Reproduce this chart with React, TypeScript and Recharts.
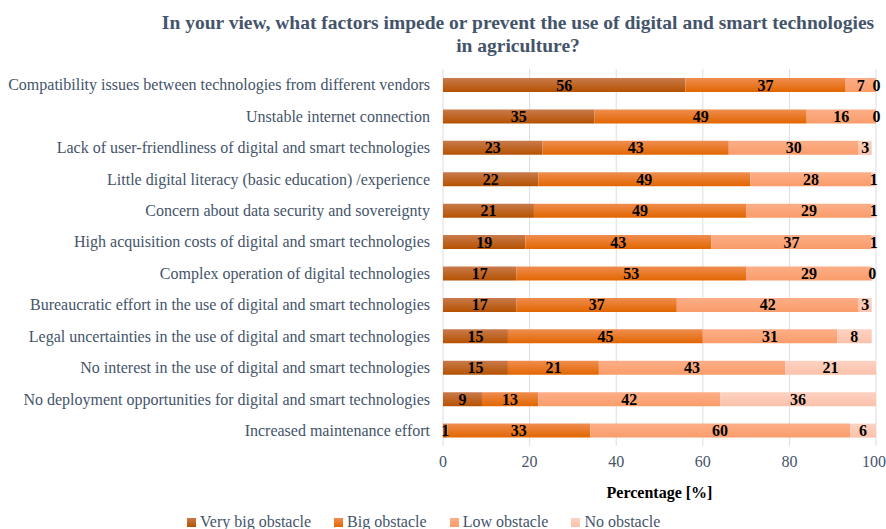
import React from 'react';
import { BarChart, Bar, XAxis, YAxis, CartesianGrid, Legend, LabelList } from 'recharts';

const categories = [
  'Compatibility issues between technologies from different vendors ',
  'Unstable internet connection',
  'Lack of user-friendliness of digital and smart technologies',
  'Little digital literacy (basic education) /experience',
  'Concern about data security and sovereignty',
  'High acquisition costs of digital and smart technologies',
  'Complex operation of digital technologies',
  'Bureaucratic effort in the use of digital and smart technologies ',
  'Legal uncertainties in the use of digital and smart technologies',
  'No interest in the use of digital and smart technologies',
  'No deployment opportunities for digital and smart technologies',
  'Increased maintenance effort',
];

const veryBig = [56, 35, 23, 22, 21, 19, 17, 17, 15, 15, 9, 1];
const big = [37, 49, 43, 49, 49, 43, 53, 37, 45, 21, 13, 33];
const low = [7, 16, 30, 28, 29, 37, 29, 42, 31, 43, 42, 60];
const none = [0, 0, 3, 1, 1, 1, 0, 3, 8, 21, 36, 6];

const xTicks = [0, 20, 40, 60, 80, 100];

const series = [
  { key: 'veryBig', name: 'Very big obstacle', top: '#c97a4c', bottom: '#b55200' },
  { key: 'big', name: 'Big obstacle', top: '#ef8d50', bottom: '#e26600' },
  { key: 'low', name: 'Low obstacle', top: '#fdae88', bottom: '#f99c6a' },
  { key: 'none', name: 'No obstacle', top: '#fdd2c2', bottom: '#fbc1aa' },
];

const data = categories.map((name, i) => ({
  name,
  veryBig: veryBig[i],
  big: big[i],
  low: low[i],
  none: none[i],
}));

const FONT = '"Liberation Serif", "Times New Roman", serif';
const SLATE = '#44546a';

// value in the middle of each segment (zero segments still get their "0")
const SegmentLabel = (props: any) => {
  const { x, y, width, height, value } = props;
  if (value === undefined || value === null) return null;
  return (
    <text
      x={Number(x) + (Number(width) || 0) / 2}
      y={Number(y) + Number(height) / 2}
      textAnchor="middle"
      dominantBaseline="central"
      fill="#000"
      style={{ fontWeight: 'bold', fontSize: 16, fontFamily: FONT }}
    >
      {value}
    </text>
  );
};

const LegendContent = () => (
  <div style={{ display: 'flex', fontFamily: FONT, fontSize: 16, color: SLATE, lineHeight: '16px' }}>
    {series.map((s, i) => (
      <div key={s.key} style={{ display: 'flex', alignItems: 'center', marginRight: i === series.length - 1 ? 0 : 23 }}>
        <span
          style={{
            display: 'inline-block',
            width: 9,
            height: 9,
            background: `linear-gradient(${s.top}, ${s.bottom})`,
            marginRight: 4,
          }}
        />
        <span>{s.name}</span>
      </div>
    ))}
  </div>
);

const App: React.FC = () => {
  return (
    <div style={{ position: 'absolute', left: 0, top: 0, width: 886, height: 529, background: '#fff', overflow: 'hidden' }}>
      <div
        style={{
          position: 'absolute',
          top: 11,
          left: 150,
          width: 736,
          textAlign: 'center',
          fontFamily: FONT,
          fontWeight: 'bold',
          fontSize: 19.5,
          lineHeight: '23px',
          color: SLATE,
        }}
      >
        In your view, what factors impede or prevent the use of digital and smart technologies
        <br />
        in agriculture?
      </div>
      <BarChart
        width={886}
        height={529}
        data={data}
        layout="vertical"
        margin={{ top: 69, right: 10, left: 0, bottom: 12 }}
        barSize={14}
      >
        <defs>
          {series.map((s) => (
            <linearGradient key={s.key} id={`grad-${s.key}`} x1="0" y1="0" x2="0" y2="1">
              <stop offset="0%" stopColor={s.top} />
              <stop offset="100%" stopColor={s.bottom} />
            </linearGradient>
          ))}
        </defs>
        <CartesianGrid horizontal={false} stroke="#d9dde4" />
        <XAxis
          type="number"
          domain={[0, 100]}
          ticks={xTicks}
          allowDataOverflow
          axisLine={false}
          tickLine={false}
          tickMargin={4}
          height={55}
          tick={{ fill: SLATE, fontSize: 16, fontFamily: FONT }}
          label={{
            value: 'Percentage [%]',
            position: 'insideBottom',
            offset: 3,
            style: { fill: '#000', fontWeight: 'bold', fontSize: 16, fontFamily: FONT },
          }}
        />
        <YAxis
          type="category"
          dataKey="name"
          width={443}
          axisLine={false}
          tickLine={false}
          tickMargin={7}
          interval={0}
          tick={{ fill: SLATE, fontSize: 16, fontFamily: FONT }}
        />
        <Legend
          verticalAlign="bottom"
          content={<LegendContent />}
          wrapperStyle={{ position: 'absolute', left: 187, top: 514, width: 560 }}
        />
        {series.map((s) => (
          <Bar
            key={s.key}
            dataKey={s.key}
            name={s.name}
            stackId="a"
            fill={`url(#grad-${s.key})`}
            minPointSize={s.key === 'none' ? 1 : 0}
            isAnimationActive={false}
          >
            <LabelList dataKey={s.key} content={<SegmentLabel />} />
          </Bar>
        ))}
      </BarChart>
    </div>
  );
};

export default App;
